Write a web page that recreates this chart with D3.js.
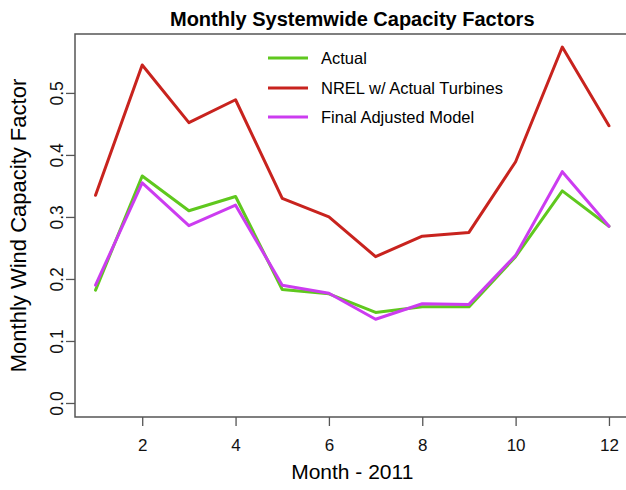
<!DOCTYPE html>
<html>
<head>
<meta charset="utf-8">
<script src="https://cdn.jsdelivr.net/npm/d3@7"></script>
<style>
  html, body { margin: 0; padding: 0; background: #fff; }
  svg { display: block; font-family: "Liberation Sans", Arial, Helvetica, sans-serif; }
</style>
</head>
<body>
<svg id="chart" width="626" height="490"></svg>
<script>
// Monthly systemwide wind capacity factors, 2011
const months = [1, 2, 3, 4, 5, 6, 7, 8, 9, 10, 11, 12];
const actual = [0.182, 0.366, 0.310, 0.333, 0.183, 0.176, 0.146, 0.155, 0.155, 0.236, 0.342, 0.285];
const nrelActual = [0.335, 0.545, 0.452, 0.489, 0.330, 0.300, 0.236, 0.269, 0.275, 0.389, 0.574, 0.447];
const finalModel = [0.190, 0.355, 0.286, 0.319, 0.190, 0.177, 0.135, 0.160, 0.159, 0.238, 0.373, 0.285];

const seriesNames = ["Actual", "NREL w/ Actual Turbines", "Final Adjusted Model"];
const seriesColors = ["#5fc81e", "#c8231e", "#cc3cf0"];
const xTicks = [2, 4, 6, 8, 10, 12];
const yTicks = [0.0, 0.1, 0.2, 0.3, 0.4, 0.5];

const titleText = "Monthly Systemwide Capacity Factors";
const xLabel = "Month - 2011";
const yLabel = "Monthly Wind Capacity Factor";

const svg = d3.select("#chart");
const box = { left: 75, right: 629.5, top: 34, bottom: 417 };
const midX = (box.left + box.right) / 2;

// Plot region padded 4% beyond the data range on each side
const x = d3.scaleLinear().domain([0.56, 12.44]).range([box.left, box.right]);
const y = d3.scaleLinear().domain([-0.0226, 0.595]).range([box.bottom, box.top]);

// Title
svg.append("text")
  .attr("x", midX)
  .attr("y", 26)
  .attr("text-anchor", "middle")
  .attr("font-weight", "bold")
  .attr("font-size", 20)
  .text(titleText);

// Series lines
const line = d3.line()
  .x((d, i) => x(months[i]))
  .y(d => y(d));

const series = [actual, nrelActual, finalModel];
series.forEach((vals, i) => {
  svg.append("path")
    .datum(vals)
    .attr("d", line)
    .attr("fill", "none")
    .attr("stroke", seriesColors[i])
    .attr("stroke-width", 3)
    .attr("stroke-linejoin", "round")
    .attr("stroke-linecap", "round");
});

// Plot frame
svg.append("rect")
  .attr("x", box.left)
  .attr("y", box.top)
  .attr("width", box.right - box.left)
  .attr("height", box.bottom - box.top)
  .attr("fill", "none")
  .attr("stroke", "#555")
  .attr("stroke-width", 1.5);

// Bottom axis
const xAxis = svg.append("g")
  .attr("transform", `translate(0,${box.bottom})`)
  .call(d3.axisBottom(x).tickValues(xTicks).tickSize(9).tickFormat(d3.format("d")));
xAxis.select(".domain").remove();
xAxis.selectAll(".tick line").attr("stroke", "#555").attr("stroke-width", 1.3);
xAxis.selectAll(".tick text")
  .attr("y", 34).attr("dy", null)
  .attr("fill", "#111")
  .attr("font-size", 17)
  .attr("font-family", "Liberation Sans, Arial, sans-serif");

// Left axis with rotated labels
const yAxis = svg.append("g")
  .attr("transform", `translate(${box.left},0)`)
  .call(d3.axisLeft(y).tickValues(yTicks).tickSize(9).tickFormat(d3.format(".1f")));
yAxis.select(".domain").remove();
yAxis.selectAll(".tick line").attr("stroke", "#555").attr("stroke-width", 1.3);
yAxis.selectAll(".tick text")
  .attr("x", null).attr("dy", null)
  .attr("transform", "translate(-12,0) rotate(-90)")
  .attr("text-anchor", "middle")
  .attr("fill", "#111")
  .attr("font-size", 17.5)
  .attr("font-family", "Liberation Sans, Arial, sans-serif");

// Axis titles
svg.append("text")
  .attr("x", midX)
  .attr("y", 479)
  .attr("text-anchor", "middle")
  .attr("font-size", 21)
  .text(xLabel);

svg.append("text")
  .attr("transform", `translate(26,${(box.top + box.bottom) / 2}) rotate(-90)`)
  .attr("text-anchor", "middle")
  .attr("font-size", 22)
  .text(yLabel);

// Legend
const legendRows = [58, 88, 117];
const legend = svg.append("g");
seriesNames.forEach((name, i) => {
  legend.append("line")
    .attr("x1", 268).attr("x2", 308)
    .attr("y1", legendRows[i]).attr("y2", legendRows[i])
    .attr("stroke", seriesColors[i])
    .attr("stroke-width", 3);
  legend.append("text")
    .attr("x", 321)
    .attr("y", legendRows[i])
    .attr("dy", "0.35em")
    .attr("font-size", 16.5)
    .text(name);
});
</script>
</body>
</html>
